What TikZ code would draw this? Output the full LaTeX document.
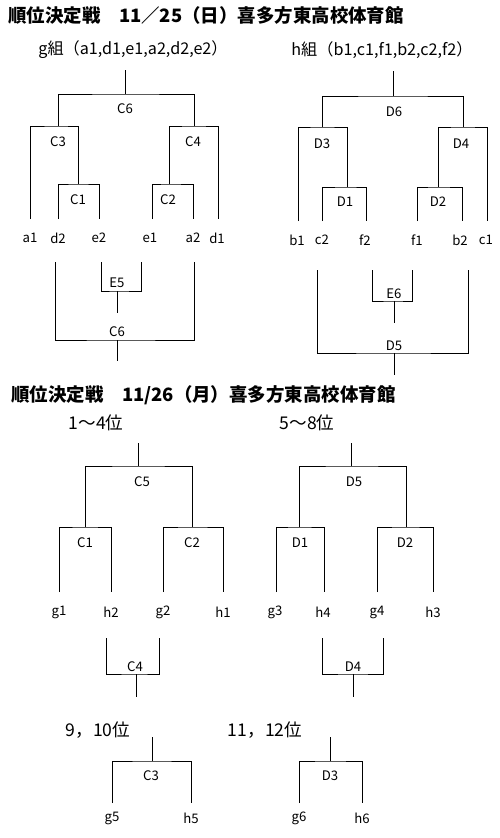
\documentclass[tikz,border=0pt]{standalone}
\usepackage{fontspec}
\setmainfont{Noto Sans CJK JP}

\tikzset{
	heading/.style={anchor=west, inner sep=0pt, font=\bfseries\fontsize{10.5}{12}\selectfont},
	rankhead/.style={inner sep=0pt, font=\fontsize{10}{12}\selectfont},
	grouphead/.style={inner sep=0pt, font=\fontsize{9.2}{11}\selectfont},
	team/.style={inner sep=0pt, font=\fontsize{7.5}{9}\selectfont},
	game/.style={inner sep=0pt, font=\fontsize{7.5}{9}\selectfont},
	bracket/.style={line width=0.5pt}
}

\begin{document}
\begin{tikzpicture}[x=0.02cm, y=-0.02cm]
	\fill[white] (0,0) rectangle (500,838);
	\useasboundingbox (0,0) rectangle (500,838);

	\node[heading] (title1) at (8,15) {順位決定戦　11／25（日）喜多方東高校体育館};
	\node[grouphead] (ghead) at (133,50) {g組（a1,d1,e1,a2,d2,e2）};
	\node[grouphead] (hhead) at (382,50) {h組（b1,c1,f1,b2,c2,f2）};

	\node[team] (a1) at (30,238) {a1};
	\node[team] (d2) at (58,238) {d2};
	\node[team] (e2) at (99,238) {e2};
	\node[team] (e1) at (150,238) {e1};
	\node[team] (a2) at (193,238) {a2};
	\node[team] (d1) at (217,238) {d1};

	\node[game] (m-gC6) at (125,109) {C6};
	\node[game] (m-gC3) at (58,142) {C3};
	\node[game] (m-gC4) at (193,142) {C4};
	\node[game] (m-gC1) at (78,200) {C1};
	\node[game] (m-gC2) at (168,200) {C2};
	\node[game] (m-gE5) at (117,283) {E5};
	\node[game] (m-gC6b) at (117,332) {C6};

	\coordinate (a1-u) at (30,219);
	\coordinate (d2-u) at (58,219);
	\coordinate (e2-u) at (99,219);
	\coordinate (e1-u) at (152,219);
	\coordinate (a2-u) at (193,219);
	\coordinate (d1-u) at (218,219);
	\coordinate (gC1) at (78,184);
	\coordinate (gC2) at (169,184);
	\coordinate (gC3) at (58,126);
	\coordinate (gC4) at (194,126);
	\coordinate (gC6) at (125,94);
	\coordinate (gC6-top) at (125,70);

	\draw[bracket] (d2-u) |- (gC1) -| (e2-u);
	\draw[bracket] (e1-u) |- (gC2) -| (a2-u);
	\draw[bracket] (a1-u) |- (gC3) -| (gC1);
	\draw[bracket] (gC2) |- (gC4) -| (d1-u);
	\draw[bracket] (gC3) |- (gC6) -| (gC4);
	\draw[bracket] (gC6) -- (gC6-top);

	\coordinate (d2-d) at (55,262);
	\coordinate (e2-d) at (101,262);
	\coordinate (e1-d) at (141,262);
	\coordinate (a2-d) at (194,262);
	\coordinate (gE5) at (117,291);
	\coordinate (gE5-end) at (117,313);
	\coordinate (gC6b) at (117,340);
	\coordinate (gC6b-end) at (117,361);

	\draw[bracket] (e2-d) |- (gE5) -| (e1-d);
	\draw[bracket] (gE5) -- (gE5-end);
	\draw[bracket] (d2-d) |- (gC6b) -| (a2-d);
	\draw[bracket] (gC6b) -- (gC6b-end);

	\node[team] (b1) at (297,240) {b1};
	\node[team] (c2) at (322,240) {c2};
	\node[team] (f2) at (365,240) {f2};
	\node[team] (f1) at (417,240) {f1};
	\node[team] (b2) at (460,240) {b2};
	\node[team] (c1) at (486,240) {c1};

	\node[game] (m-hD6) at (394,112) {D6};
	\node[game] (m-hD3) at (322,144) {D3};
	\node[game] (m-hD4) at (461,144) {D4};
	\node[game] (m-hD1) at (345,202) {D1};
	\node[game] (m-hD2) at (438,202) {D2};
	\node[game] (m-hE6) at (394,294) {E6};
	\node[game] (m-hD5) at (394,346) {D5};

	\coordinate (b1-u) at (298,221);
	\coordinate (c2-u) at (322,221);
	\coordinate (f2-u) at (366,221);
	\coordinate (f1-u) at (417,221);
	\coordinate (b2-u) at (462,221);
	\coordinate (c1-u) at (487,221);
	\coordinate (hD1) at (347,187);
	\coordinate (hD2) at (438,187);
	\coordinate (hD3) at (322,127);
	\coordinate (hD4) at (463,127);
	\coordinate (hD6) at (393,96);
	\coordinate (hD6-top) at (393,71);

	\draw[bracket] (c2-u) |- (hD1) -| (f2-u);
	\draw[bracket] (f1-u) |- (hD2) -| (b2-u);
	\draw[bracket] (b1-u) |- (hD3) -| (hD1);
	\draw[bracket] (hD2) |- (hD4) -| (c1-u);
	\draw[bracket] (hD3) |- (hD6) -| (hD4);
	\draw[bracket] (hD6) -- (hD6-top);

	\coordinate (c2-d) at (317,270);
	\coordinate (f2-d) at (372,270);
	\coordinate (f1-d) at (412,270);
	\coordinate (b2-d) at (468,270);
	\coordinate (hE6) at (394,301);
	\coordinate (hE6-end) at (394,323);
	\coordinate (hD5) at (394,353);
	\coordinate (hD5-end) at (394,375);

	\draw[bracket] (f2-d) |- (hE6) -| (f1-d);
	\draw[bracket] (hE6) -- (hE6-end);
	\draw[bracket] (c2-d) |- (hD5) -| (b2-d);
	\draw[bracket] (hD5) -- (hD5-end);

	\node[heading] (title2) at (11,395) {順位決定戦　11/26（月）喜多方東高校体育館};
	\node[rankhead] (r14) at (96,423) {1〜4位};
	\node[rankhead] (r58) at (307,423) {5〜8位};

	\node[team] (g1) at (59,612) {g1};
	\node[team] (h2) at (111,612) {h2};
	\node[team] (g2) at (163,612) {g2};
	\node[team] (h1) at (223,612) {h1};
	\node[team] (g3) at (275,612) {g3};
	\node[team] (h4) at (323,612) {h4};
	\node[team] (g4) at (377,612) {g4};
	\node[team] (h3) at (433,612) {h3};

	\node[game] (m-sC5) at (142,482) {C5};
	\node[game] (m-sC1) at (85,543) {C1};
	\node[game] (m-sC2) at (192,543) {C2};
	\node[game] (m-sC4) at (135,667) {C4};
	\node[game] (m-sD5) at (354,482) {D5};
	\node[game] (m-sD1) at (300,543) {D1};
	\node[game] (m-sD2) at (405,543) {D2};
	\node[game] (m-sD4) at (353,667) {D4};

	\coordinate (g1-u) at (59,592);
	\coordinate (h2-u) at (111,592);
	\coordinate (g2-u) at (163,592);
	\coordinate (h1-u) at (223,592);
	\coordinate (sC1) at (85,527);
	\coordinate (sC2) at (192,527);
	\coordinate (sC5) at (138,466);
	\coordinate (sC5-top) at (138,443);

	\draw[bracket] (g1-u) |- (sC1) -| (h2-u);
	\draw[bracket] (g2-u) |- (sC2) -| (h1-u);
	\draw[bracket] (sC1) |- (sC5) -| (sC2);
	\draw[bracket] (sC5) -- (sC5-top);

	\coordinate (h2-d) at (106,638);
	\coordinate (g2-d) at (159,638);
	\coordinate (sC4) at (136,674);
	\coordinate (sC4-end) at (136,697);

	\draw[bracket] (h2-d) |- (sC4) -| (g2-d);
	\draw[bracket] (sC4) -- (sC4-end);

	\coordinate (g3-u) at (276,592);
	\coordinate (h4-u) at (324,592);
	\coordinate (g4-u) at (377,592);
	\coordinate (h3-u) at (433,592);
	\coordinate (sD1) at (299,527);
	\coordinate (sD2) at (406,527);
	\coordinate (sD5) at (351,466);
	\coordinate (sD5-top) at (351,443);

	\draw[bracket] (g3-u) |- (sD1) -| (h4-u);
	\draw[bracket] (g4-u) |- (sD2) -| (h3-u);
	\draw[bracket] (sD1) |- (sD5) -| (sD2);
	\draw[bracket] (sD5) -- (sD5-top);

	\coordinate (h4-d) at (322,638);
	\coordinate (g4-d) at (383,638);
	\coordinate (sD4) at (353,674);
	\coordinate (sD4-end) at (353,697);

	\draw[bracket] (h4-d) |- (sD4) -| (g4-d);
	\draw[bracket] (sD4) -- (sD4-end);

	\node[rankhead] (r910) at (98,730) {9，10位};
	\node[rankhead] (r1112) at (265,730) {11，12位};

	\node[game] (m-sC3) at (151,776) {C3};
	\node[game] (m-sD3) at (330,776) {D3};
	\node[team] (g5) at (112,818) {g5};
	\node[team] (h5) at (191,818) {h5};
	\node[team] (g6) at (299,818) {g6};
	\node[team] (h6) at (362,818) {h6};

	\coordinate (g5-u) at (112,803);
	\coordinate (h5-u) at (191,803);
	\coordinate (sC3) at (152,761);
	\coordinate (sC3-top) at (152,737);
	\coordinate (g6-u) at (299,803);
	\coordinate (h6-u) at (362,803);
	\coordinate (sD3) at (330,761);
	\coordinate (sD3-top) at (330,737);

	\draw[bracket] (g5-u) |- (sC3) -| (h5-u);
	\draw[bracket] (sC3) -- (sC3-top);
	\draw[bracket] (g6-u) |- (sD3) -| (h6-u);
	\draw[bracket] (sD3) -- (sD3-top);
\end{tikzpicture}
\end{document}
